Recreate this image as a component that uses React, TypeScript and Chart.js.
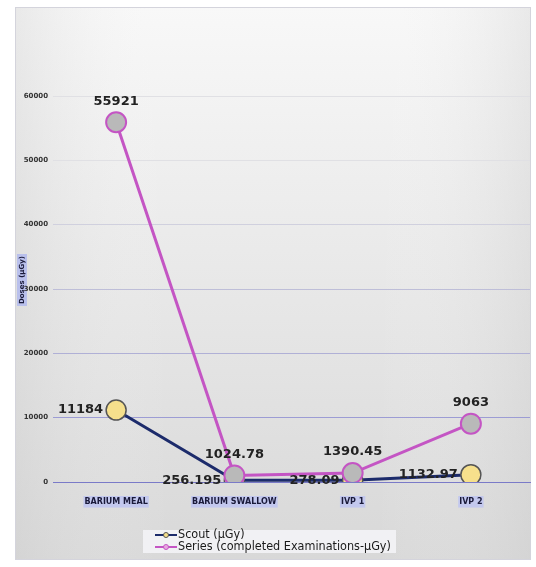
import React, { useEffect, useRef } from "react";
import { Chart, registerables } from "chart.js";

Chart.register(...registerables);

const categories = ["BARIUM MEAL", "BARIUM SWALLOW", "IVP 1", "IVP 2"];
const scoutValues = [11184, 256.195, 278.09, 1132.97];
const seriesValues = [55921, 1024.78, 1390.45, 9063];
const scoutLabels = ["11184", "256.195", "278.09", "1132.97"];
const seriesLabels = ["55921", "1024.78", "1390.45", "9063"];
const yTicks = [0, 10000, 20000, 30000, 40000, 50000, 60000];
const legendLabels = ["Scout (µGy)", "Series (completed Examinations-µGy)"];
const yTitle = "Doses (µGy)";

const SCOUT_LINE = "#1c2b6b";
const SCOUT_FILL = "#f6e08c";
const SCOUT_BORDER = "#555555";
const SERIES_LINE = "#c455c4";
const SERIES_FILL = "#b9b9b9";

const decorPlugin = {
  id: "decor",
  beforeDraw(chart: any) {
    const ctx = chart.ctx;
    const W = chart.width;
    const H = chart.height;
    ctx.save();
    ctx.fillStyle = "#ffffff";
    ctx.fillRect(0, 0, W, H);
    const gv = ctx.createLinearGradient(0, 7, 0, 560);
    gv.addColorStop(0, "#f8f8f8");
    gv.addColorStop(0.5, "#e8e8e8");
    gv.addColorStop(1, "#d8d8d8");
    ctx.fillStyle = gv;
    ctx.fillRect(15, 7, 516, 553);
    const gh = ctx.createLinearGradient(15, 0, 531, 0);
    gh.addColorStop(0, "rgba(205,205,205,0.35)");
    gh.addColorStop(0.3, "rgba(255,255,255,0)");
    gh.addColorStop(0.7, "rgba(255,255,255,0)");
    gh.addColorStop(1, "rgba(205,205,205,0.35)");
    ctx.fillStyle = gh;
    ctx.fillRect(15, 7, 516, 553);
    ctx.strokeStyle = "#d4d4dc";
    ctx.lineWidth = 1;
    ctx.strokeRect(15.5, 7.5, 515, 552);

    // y-axis title with highlight
    ctx.translate(22, 280);
    ctx.rotate(-Math.PI / 2);
    ctx.font = "bold 7px 'DejaVu Sans'";
    const tw = ctx.measureText(yTitle).width;
    ctx.fillStyle = "#b9c0ec";
    ctx.fillRect(-tw / 2 - 2, -5, tw + 4, 10);
    ctx.fillStyle = "#1a1a3a";
    ctx.textAlign = "center";
    ctx.textBaseline = "middle";
    ctx.fillText(yTitle, 0, 0.5);
    ctx.restore();
  },
  afterDraw(chart: any) {
    const ctx = chart.ctx;
    ctx.save();
    ctx.font = "bold 13px 'DejaVu Sans'";
    ctx.fillStyle = "#222222";
    const m0 = chart.getDatasetMeta(0);
    const m1 = chart.getDatasetMeta(1);
    m1.data.forEach((p: any, i: number) => {
      ctx.textAlign = "center";
      ctx.textBaseline = "middle";
      ctx.fillText(seriesLabels[i], p.x, p.y - 21);
    });
    m0.data.forEach((p: any, i: number) => {
      ctx.textAlign = "right";
      ctx.textBaseline = "middle";
      ctx.fillText(scoutLabels[i], p.x - 13, p.y);
    });

    // legend
    const lx = 178;
    const rows = [
      { y: 535, line: SCOUT_LINE, fill: SCOUT_FILL, border: SCOUT_BORDER },
      { y: 547, line: SERIES_LINE, fill: "#e8a8e0", border: SERIES_LINE },
    ];
    ctx.font = "12.5px 'DejaVu Sans Condensed', 'DejaVu Sans'";
    ctx.fillStyle = "rgba(245,245,248,0.85)";
    ctx.fillRect(143, 530, 253, 23);
    rows.forEach((r, i) => {
      ctx.strokeStyle = r.line;
      ctx.lineWidth = 2;
      ctx.beginPath();
      ctx.moveTo(lx - 23, r.y);
      ctx.lineTo(lx - 1, r.y);
      ctx.stroke();
      ctx.beginPath();
      ctx.arc(lx - 12, r.y, 2.5, 0, Math.PI * 2);
      ctx.fillStyle = r.fill;
      ctx.fill();
      ctx.lineWidth = 1;
      ctx.strokeStyle = r.border;
      ctx.stroke();
      ctx.fillStyle = "#1a1a1a";
      ctx.textAlign = "left";
      ctx.textBaseline = "middle";
      ctx.fillText(legendLabels[i], lx, r.y);
    });
    ctx.restore();
  },
};

const gridColor = (v: number) => {
  if (v === 0) return "#7a7ac8";
  if (v === 10000) return "#9c9cd4";
  if (v === 20000) return "#b0b0d6";
  if (v === 30000) return "#bebed8";
  if (v === 40000) return "#d0d0de";
  return "#e0e0e4";
};

export default function App() {
  const ref = useRef<HTMLCanvasElement | null>(null);
  useEffect(() => {
    if (!ref.current) return;
    const chart = new Chart(ref.current, {
      type: "line",
      data: {
        labels: categories,
        datasets: [
          {
            label: legendLabels[0],
            data: scoutValues,
            order: 1,
            borderColor: SCOUT_LINE,
            backgroundColor: SCOUT_FILL,
            borderWidth: 3,
            pointRadius: 10,
            pointBorderWidth: 1.5,
            pointBorderColor: SCOUT_BORDER,
            pointBackgroundColor: SCOUT_FILL,
            tension: 0,
          },
          {
            label: legendLabels[1],
            data: seriesValues,
            order: 0,
            borderColor: SERIES_LINE,
            backgroundColor: SERIES_FILL,
            borderWidth: 3,
            pointRadius: 10,
            pointBorderWidth: 2,
            pointBorderColor: SERIES_LINE,
            pointBackgroundColor: SERIES_FILL,
            tension: 0,
          },
        ],
      },
      options: {
        animation: false,
        responsive: false,
        maintainAspectRatio: false,
        layout: { autoPadding: false, padding: { top: 96, left: 11, right: 6, bottom: 55 } },
        plugins: {
          legend: { display: false },
          tooltip: { enabled: false },
        },
        scales: {
          x: {
            offset: true,
            grid: { display: false },
            border: { color: "#7a7ac8", width: 1 },
            ticks: {
              font: { family: "'DejaVu Sans'", size: 8, weight: "bold" },
              color: "#1a1a3a",
              padding: 7,
              maxRotation: 0,
              autoSkip: false,
              showLabelBackdrop: true,
              backdropColor: "#c3c8ee",
              backdropPadding: { top: 1, bottom: 1, left: 1, right: 1 },
            },
            afterFit: (s: any) => {
              s.height = 30;
              s.paddingLeft = 0;
              s.paddingRight = 0;
            },
          },
          y: {
            min: 0,
            max: 60000,
            afterBuildTicks: (s: any) => {
              s.ticks = yTicks.map((v) => ({ value: v }));
            },
            grid: {
              color: (c: any) => gridColor(c.tick ? c.tick.value : -1),
              lineWidth: 1,
              tickLength: 4,
              drawTicks: true,
            },
            border: { display: false },
            ticks: {
              font: { family: "'DejaVu Sans'", size: 7, weight: "bold" },
              color: "#333333",
              padding: 5,
              callback: (v: any) => String(v),
            },
            afterFit: (s: any) => {
              s.width = 46;
              s.paddingTop = 0;
              s.paddingBottom = 0;
            },
          },
        },
      },
      plugins: [decorPlugin],
    });
    return () => chart.destroy();
  }, []);
  return (
    <div style={{ position: "fixed", left: 0, top: 0, width: 536, height: 567 }}>
      <canvas ref={ref} width={536} height={567} style={{ width: 536, height: 567, display: "block" }} />
    </div>
  );
}
